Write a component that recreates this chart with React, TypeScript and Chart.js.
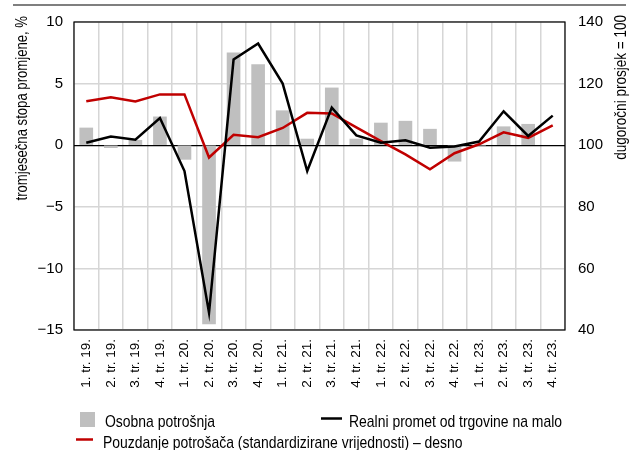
import React, { useEffect, useRef } from "react";
import { Chart, registerables } from "chart.js";

Chart.register(...registerables);

const FONT = "'Liberation Sans', Arial, Helvetica, sans-serif";
const NARROW = 0.82;

const categories = [
  "1. tr. 19.", "2. tr. 19.", "3. tr. 19.", "4. tr. 19.",
  "1. tr. 20.", "2. tr. 20.", "3. tr. 20.", "4. tr. 20.",
  "1. tr. 21.", "2. tr. 21.", "3. tr. 21.", "4. tr. 21.",
  "1. tr. 22.", "2. tr. 22.", "3. tr. 22.", "4. tr. 22.",
  "1. tr. 23.", "2. tr. 23.", "3. tr. 23.", "4. tr. 23.",
];

// Osobna potrošnja (left axis, %)
const personalConsumption = [
  1.4, -0.2, 0.4, 2.3, -1.15, -14.5, 7.5, 6.55, 2.8, 0.5,
  4.65, 0.5, 1.8, 1.95, 1.3, -1.3, 0, 1.5, 1.7, null,
];

// Realni promet od trgovine na malo (left axis, %)
const retailTrade = [
  0.2, 0.7, 0.45, 2.2, -2.1, -13.6, 6.95, 8.25, 5.0, -2.1,
  3.05, 0.8, 0.2, 0.4, -0.2, -0.1, 0.3, 2.75, 0.75, 2.4,
];

// Pouzdanje potrošača (right axis, long-term average = 100)
const consumerConfidence = [
  114.3, 115.6, 114.2, 116.5, 116.5, 96.0, 103.4, 102.6, 105.6, 110.5,
  110.3, 105.8, 101.3, 97.0, 92.2, 97.4, 100.3, 104.2, 102.4, 106.4,
];

const leftTitle = "tromjesečna stopa promjene, %";
const rightTitle = "dugoročni prosjek = 100";
const legendLabels = [
  "Osobna potrošnja",
  "Realni promet od trgovine na malo",
  "Pouzdanje potrošača (standardizirane vrijednosti) – desno",
];

const GREY = "#bfbfbf";
const BLACK = "#000000";
const RED = "#c00000";

function narrowText(
  ctx: CanvasRenderingContext2D,
  text: string,
  x: number,
  y: number,
  size: number,
  align: CanvasTextAlign,
  baseline: CanvasTextBaseline,
  rotate: boolean
) {
  ctx.save();
  ctx.translate(x, y);
  if (rotate) ctx.rotate(-Math.PI / 2);
  ctx.scale(NARROW, 1);
  ctx.font = `${size}px ${FONT}`;
  ctx.textAlign = align;
  ctx.textBaseline = baseline;
  ctx.fillStyle = "#000";
  ctx.fillText(text, 0, 0);
  ctx.restore();
}

const decorPlugin = {
  id: "decor",
  afterDraw(chart: any) {
    const ctx = chart.ctx as CanvasRenderingContext2D;
    const a = chart.chartArea;
    ctx.save();
    // top rule
    ctx.strokeStyle = "#7f7f7f";
    ctx.lineWidth = 2;
    ctx.beginPath();
    ctx.moveTo(13, 5);
    ctx.lineTo(626, 5);
    ctx.stroke();

    // frame
    ctx.strokeStyle = "#000";
    ctx.lineWidth = 1.2;
    ctx.strokeRect(a.left, a.top, a.right - a.left, a.bottom - a.top);

    // axis titles
    narrowText(ctx, leftTitle, 23, 16, 16, "right", "middle", true);
    narrowText(ctx, rightTitle, 621.5, 15, 16.5, "right", "middle", true);

    // legend
    const ds = chart.data.datasets;
    ctx.fillStyle = ds[0].backgroundColor;
    ctx.fillRect(80, 412, 15, 15);
    narrowText(ctx, legendLabels[0], 105, 426.5, 17, "left", "alphabetic", false);

    ctx.strokeStyle = ds[1].borderColor;
    ctx.lineWidth = 2.5;
    ctx.beginPath();
    ctx.moveTo(321, 418.5);
    ctx.lineTo(342, 418.5);
    ctx.stroke();
    narrowText(ctx, legendLabels[1], 349, 426.5, 17, "left", "alphabetic", false);

    ctx.strokeStyle = ds[2].borderColor;
    ctx.beginPath();
    ctx.moveTo(76, 439.5);
    ctx.lineTo(93, 439.5);
    ctx.stroke();
    narrowText(ctx, legendLabels[2], 103, 447.5, 17, "left", "alphabetic", false);
    ctx.restore();
  },
};

const fmt = (v: number) => (v < 0 ? "\u2212" + Math.abs(v) : String(v));

export default function App() {
  const ref = useRef<HTMLCanvasElement>(null);
  useEffect(() => {
    if (!ref.current) return;
    Chart.defaults.font.family = FONT;
    Chart.defaults.color = "#000";
    const chart = new Chart(ref.current, {
      type: "bar",
      data: {
        labels: categories,
        datasets: [
          {
            type: "bar",
            label: legendLabels[0],
            data: personalConsumption,
            backgroundColor: GREY,
            barThickness: 13,
            yAxisID: "y",
            order: 3,
          } as any,
          {
            type: "line",
            label: legendLabels[1],
            data: retailTrade,
            borderColor: BLACK,
            backgroundColor: BLACK,
            borderWidth: 2.5,
            pointRadius: 0,
            tension: 0,
            yAxisID: "y",
            order: 1,
          },
          {
            type: "line",
            label: legendLabels[2],
            data: consumerConfidence,
            borderColor: RED,
            backgroundColor: RED,
            borderWidth: 2.5,
            pointRadius: 0,
            tension: 0,
            yAxisID: "y1",
            order: 2,
          },
        ],
      },
      options: {
        responsive: false,
        animation: false,
        layout: { padding: { top: 20, left: 0, right: 0, bottom: 0 } },
        plugins: {
          legend: { display: false },
          tooltip: { enabled: false },
        },
        scales: {
          x: {
            offset: true,
            grid: { offset: true, color: "#d6d6d6", lineWidth: 1.5, drawTicks: false },
            border: { display: false },
            ticks: {
              autoSkip: false,
              minRotation: 90,
              maxRotation: 90,
              padding: 9,
              font: { size: 13.5 },
              color: "#000",
            },
            afterFit: (s: any) => {
              s.height = 120;
            },
          },
          y: {
            position: "left",
            min: -15,
            max: 10,
            ticks: {
              stepSize: 5,
              padding: 11,
              font: { size: 15 },
              color: "#000",
              callback: (v: any) => fmt(Number(v)),
            },
            grid: {
              drawTicks: false,
              color: (c: any) => (c.tick && c.tick.value === 0 ? "#000" : "#d6d6d6"),
              lineWidth: (c: any) => (c.tick && c.tick.value === 0 ? 1.2 : 1.5),
            },
            border: { display: false },
            afterFit: (s: any) => {
              s.width = 74;
            },
          },
          y1: {
            position: "right",
            min: 40,
            max: 140,
            ticks: {
              stepSize: 20,
              padding: 13,
              font: { size: 15 },
              color: "#000",
            },
            grid: { display: false, drawTicks: false },
            border: { display: false },
            afterFit: (s: any) => {
              s.width = 70;
            },
          },
        },
      },
      plugins: [decorPlugin],
    });
    return () => chart.destroy();
  }, []);

  return (
    <div style={{ position: "fixed", left: 0, top: 0, width: 635, height: 450, background: "#fff" }}>
      <canvas ref={ref} width={635} height={450} style={{ display: "block" }} />
    </div>
  );
}
